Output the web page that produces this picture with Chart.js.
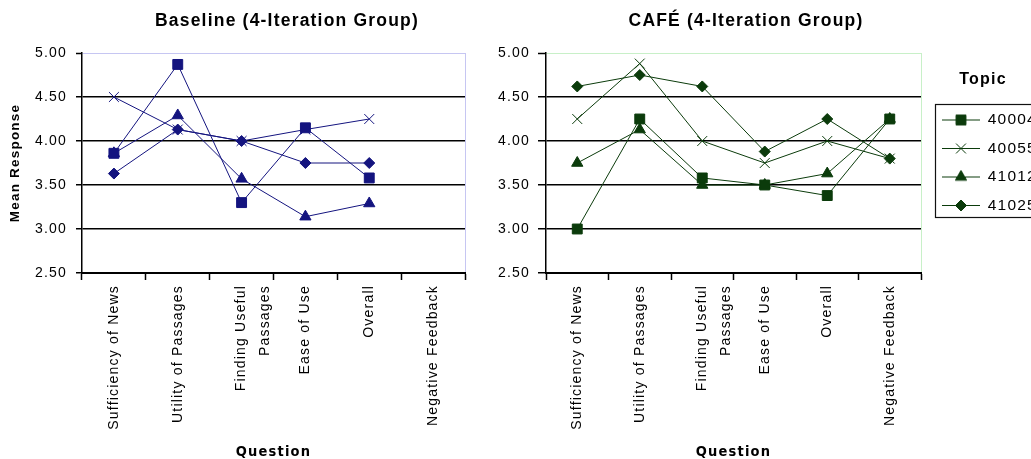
<!DOCTYPE html>
<html>
<head>
<meta charset="utf-8">
<script src="https://cdn.jsdelivr.net/npm/chart.js@4/dist/chart.umd.min.js"></script>
<style>
  html, body { margin: 0; padding: 0; background: #fff; width: 1031px; height: 459px; overflow: hidden; }
  canvas { position: absolute; top: 0; }
  #baseline { left: 0; width: 574px; height: 459px; }
  #cafe { left: 455px; width: 582px; height: 459px; }
</style>
</head>
<body>
<canvas id="baseline" width="574" height="459"></canvas>
<canvas id="cafe" width="582" height="459"></canvas>
<script>
// Survey questions (x axis) and topics (series)
const questions = ['Sufficiency of News', 'Utility of Passages', ['Finding Useful', 'Passages'], 'Ease of Use', 'Overall', 'Negative Feedback'];
const topics = ['40004', '40055', '41012', '41025'];

// Mean response axis
const yRange = [2.5, 5.0];
const yStep = 0.5;

// Baseline system, 4-iteration group (no negative feedback question)
const baseline40004 = [3.86, 4.87, 3.30, 4.15, 3.58, null];
const baseline40055 = [4.50, 4.13, 4.00, 4.13, 4.25, null];
const baseline41012 = [3.86, 4.29, 3.57, 3.14, 3.29, null];
const baseline41025 = [3.63, 4.13, 4.00, 3.75, 3.75, null];

// CAFÉ system, 4-iteration group
const cafe40004 = [3.00, 4.25, 3.58, 3.50, 3.38, 4.25];
const cafe40055 = [4.25, 4.88, 4.00, 3.75, 4.00, 3.80];
const cafe41012 = [3.75, 4.13, 3.50, 3.50, 3.63, 4.25];
const cafe41025 = [4.62, 4.75, 4.62, 3.88, 4.25, 3.80];

// Marker per topic
const markerStyles = ['rect', 'crossRot', 'triangle', 'rectRot'];
const markerRadii = [7, 7, 6.5, 5.5];

const FONT = "'Liberation Sans', Arial, Helvetica, sans-serif";
const NARROW = "'Liberation Sans Narrow', 'Arial Narrow', 'DejaVu Sans Condensed', 'Liberation Sans', sans-serif";

// Slightly open glyph spacing used for all chart text
const textSpacing = {
  id: 'textSpacing',
  beforeUpdate(chart) { chart.ctx.letterSpacing = '1.2px'; },
  beforeDraw(chart) { chart.ctx.letterSpacing = '1.2px'; }
};

// Frame around the legend entries
const legendFrame = {
  id: 'legendFrame',
  afterDraw(chart) {
    const lg = chart.legend;
    if (!lg || !lg.legendHitBoxes || !lg.legendHitBoxes.length) return;
    const hb = lg.legendHitBoxes;
    const first = hb[0], last = hb[hb.length - 1];
    const ctx = chart.ctx;
    const l = Math.round(first.left - 7) + 0.5;
    const t = Math.round(first.top - 8) + 0.5;
    const b = Math.round(last.top + last.height + 4) + 0.5;
    ctx.save();
    ctx.strokeStyle = '#111';
    ctx.lineWidth = 1.2;
    ctx.strokeRect(l, t, chart.width - l + 20, b - t);
    ctx.restore();
  }
};

// Legend swatch: short line with the series marker on it
function legendSwatch(ds) {
  const c = document.createElement('canvas');
  c.width = 38; c.height = 15;
  const g = c.getContext('2d');
  g.strokeStyle = ds.borderColor;
  g.fillStyle = ds.borderColor;
  g.lineWidth = 1;
  g.beginPath(); g.moveTo(0, 7.5); g.lineTo(38, 7.5); g.stroke();
  if (Chart.helpers && Chart.helpers.drawPoint) {
    Chart.helpers.drawPoint(g, { pointStyle: ds.pointStyle, radius: ds.pointRadius, borderWidth: 1, rotation: 0 }, 19, 7.5);
  }
  return c;
}

function buildDatasets(seriesList, color) {
  return seriesList.map((values, i) => ({
    label: topics[i],
    data: values,
    borderColor: color,
    backgroundColor: color,
    borderWidth: 1,
    pointStyle: markerStyles[i],
    pointRadius: markerRadii[i],
    pointBorderWidth: 1,
    pointBackgroundColor: color,
    pointBorderColor: color,
    tension: 0,
    spanGaps: false
  }));
}

function makeChart(canvasId, cfg) {
  const yTickLen = cfg.yTickLen;
  return new Chart(document.getElementById(canvasId), {
    type: 'line',
    data: { labels: questions, datasets: buildDatasets(cfg.series, cfg.color) },
    plugins: cfg.plugins,
    options: {
      responsive: false,
      animation: false,
      devicePixelRatio: 1,
      events: [],
      layout: { padding: 0 },
      plugins: {
        title: {
          display: true,
          text: cfg.title,
          color: '#000',
          font: { family: FONT, size: 17.5, weight: 'bold' },
          padding: { top: 11, bottom: 21 }
        },
        legend: cfg.legend,
        tooltip: { enabled: false }
      },
      scales: {
        x: {
          type: 'category',
          offset: true,
          afterFit: (s) => { s.height = 186; },
          grid: {
            display: true,
            offset: true,
            drawOnChartArea: true,
            drawTicks: true,
            tickLength: 7,
            tickWidth: 1.5,
            tickColor: '#000',
            lineWidth: 1,
            color: (c) => (c.type === 'scale' ? cfg.frameColor : 'rgba(0,0,0,0)')
          },
          border: { display: true, color: '#000', width: 2 },
          ticks: {
            autoSkip: false,
            minRotation: 90,
            maxRotation: 90,
            padding: 5,
            color: '#000',
            font: { family: FONT, size: 14, lineHeight: 1.7 }
          },
          title: {
            display: true,
            text: 'Question',
            color: '#000',
            font: { family: NARROW, size: 14.5, weight: 'bold condensed', lineHeight: 1.0 },
            padding: { top: 0, bottom: 0 }
          }
        },
        y: {
          type: 'linear',
          position: 'left',
          min: yRange[0],
          max: yRange[1],
          afterFit: (s) => { s.width = cfg.yWidth; },
          grid: {
            drawOnChartArea: true,
            tickLength: yTickLen,
            tickWidth: 1.5,
            tickColor: '#000',
            lineWidth: (c) => (c.tick && c.tick.value === yRange[1] ? 1 : 1.5),
            color: (c) => {
              if (!c.tick) return '#000';
              if (c.tick.value === yRange[1]) return cfg.frameColor;
              if (c.tick.value === yRange[0]) return 'rgba(0,0,0,0)';
              return '#000';
            }
          },
          border: { display: true, color: '#000', width: 1.5 },
          ticks: {
            stepSize: yStep,
            padding: cfg.yPad,
            color: '#000',
            font: { family: FONT, size: 14 },
            callback: (v) => Number(v).toFixed(2)
          },
          title: cfg.yTitle
        },
        gap: {
          type: 'linear',
          position: 'right',
          display: true,
          afterFit: (s) => { s.width = cfg.rightGap; },
          grid: { display: false, drawTicks: false },
          border: { display: false },
          ticks: { display: false }
        }
      }
    }
  });
}

makeChart('baseline', {
  title: 'Baseline (4-Iteration Group)',
  series: [baseline40004, baseline40055, baseline41012, baseline41025],
  color: '#14147f',
  frameColor: '#c6c6f2',
  yWidth: 82,
  yTickLen: 6,
  yPad: 9,
  rightGap: 109,
  plugins: [textSpacing],
  legend: { display: false },
  yTitle: {
    display: true,
    text: 'Mean Response',
    color: '#000',
    font: { family: FONT, size: 13.5, weight: 'bold' },
    padding: { top: 7, bottom: 0 }
  }
});

makeChart('cafe', {
  title: 'CAFÉ (4-Iteration Group)',
  series: [cafe40004, cafe40055, cafe41012, cafe41025],
  color: '#0b3b0b',
  frameColor: '#c8f0c8',
  yWidth: 91,
  yTickLen: 8,
  yPad: 8,
  rightGap: 8,
  plugins: [textSpacing, legendFrame],
  yTitle: { display: false },
  legend: {
    display: true,
    position: 'right',
    align: 'start',
    fullSize: true,
    maxWidth: 108,
    title: {
      display: true,
      text: 'Topic',
      color: '#000',
      font: { family: FONT, size: 16, weight: 'bold' },
      padding: { top: 72, bottom: 8 }
    },
    labels: {
      usePointStyle: true,
      pointStyleWidth: 38,
      padding: 13,
      color: '#000',
      font: { family: FONT, size: 15.5 },
      generateLabels: (chart) => chart.data.datasets.map((ds, i) => ({
        text: ds.label,
        pointStyle: legendSwatch(ds),
        fontColor: '#000',
        fillStyle: ds.borderColor,
        strokeStyle: ds.borderColor,
        lineWidth: 0,
        hidden: false,
        datasetIndex: i
      }))
    }
  }
});
</script>
</body>
</html>
